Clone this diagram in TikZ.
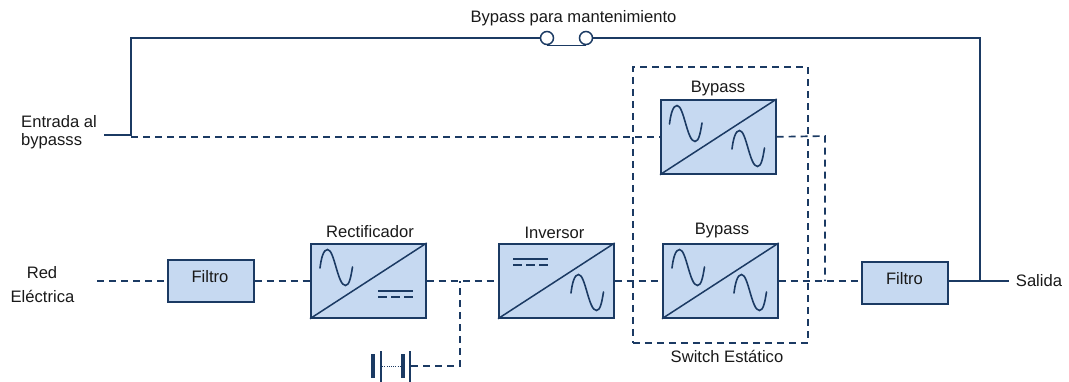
\documentclass[tikz,border=0pt]{standalone}
\usepackage{fontspec}
\setmainfont{Liberation Sans}
\definecolor{wire}{HTML}{1B3A63}
\definecolor{boxfill}{HTML}{C6D9F1}
\tikzset{
  x=1pt,y=-1pt,
  every node/.style={font=\fontsize{16.6}{20}\selectfont,text=black!90,inner sep=0pt},
  wireline/.style={draw=wire,line width=1.5pt},
  dashwire/.style={draw=wire,line width=1.7pt,dash pattern=on 7pt off 5pt},
  conv/.style={rectangle,draw=wire,fill=boxfill,line width=1.7pt,minimum width=115pt,minimum height=74pt,anchor=north west},
  filt/.style={rectangle,draw=wire,fill=boxfill,line width=1.7pt,minimum width=86pt,minimum height=42pt,anchor=north west},
  pics/sinewave/.style={code={\draw[wire,line width=1.6pt,line cap=round] (0,0) .. controls (1.2,-10) and (3.5,-18.5) .. (7.5,-18.5) .. controls (14.5,-18.5) and (17.5,17.5) .. (25.5,17.5) .. controls (29.5,17.5) and (31,8) .. (32.5,-1);}},
  pics/dcmark/.style={code={\draw[wire,line width=1.5pt] (0,0) -- (35,0);\draw[wire,line width=1.5pt,dash pattern=on 9pt off 4pt] (0,6) -- (35,6);}}
}
\begin{document}
\begin{tikzpicture}
\useasboundingbox (0,0) rectangle (1069,381);
% free ends and corners
\coordinate (topleft) at (131,38);
\coordinate (topright) at (980,38);
\coordinate (inkink) at (131,135);
\coordinate (instub) at (104,135);
\coordinate (redend) at (97,281);
\coordinate (outend) at (1009,281);
\coordinate (outtap) at (980,281);
\coordinate (mergetop) at (825,136);
\coordinate (merge) at (825,281);
\coordinate (dcjunction) at (460,281);
\coordinate (batcorner) at (460,366);
% dashed enclosure
\node[rectangle,draw=wire,line width=1.7pt,dash pattern=on 7pt off 5pt,minimum width=175pt,minimum height=276pt,anchor=north west] (staticbox) at (632,66) {};
% wires behind boxes
\node[circle,draw=wire,line width=1.5pt,fill=white,minimum size=13pt] (swa) at (547,38) {};
\node[circle,draw=wire,line width=1.5pt,fill=white,minimum size=13pt] (swb) at (586,38) {};
\draw[wireline] (instub) -- (inkink) -- (topleft) -- (swa.west);
\draw[wireline] (swa.south) -- (swb.south);
\draw[wireline] (swb.east) -- (topright) -- (outtap);
% boxes
\node[filt] (filtroa) at (167,259) {};
\node (filtroatext) at (210,277) {Filtro};
\node[conv] (rect) at (310,243) {};
\node[conv] (inv) at (498,243) {};
\node[conv] (bypb) at (662,243) {};
\node[conv] (bypt) at (660,99) {};
\node[filt] (filtrob) at (861,261) {};
\node (filtrobtext) at (904.5,279) {Filtro};
\foreach \b in {rect,inv,bypb,bypt}{\draw[wireline] (\b.south west) -- (\b.north east);}
% symbols
\pic at (320,268) {sinewave};
\pic at (378,291) {dcmark};
\pic at (513,259) {dcmark};
\pic at (571,293) {sinewave};
\pic at (672,268) {sinewave};
\pic at (734,293) {sinewave};
\pic at (669.5,124) {sinewave};
\pic at (732,149) {sinewave};
% connectors
\draw[dashwire] (redend) -- (redend -| filtroa.west);
\draw[dashwire] (filtroa.east |- redend) -- (rect.west |- redend);
\draw[dashwire] (rect.east |- dcjunction) -- (dcjunction) -- (inv.west |- dcjunction);
\draw[dashwire] (inv.east |- merge) -- (bypb.west |- merge);
\draw[dashwire] (bypb.east |- merge) -- (merge) -- (filtrob.west |- merge);
\draw[dashwire] (inkink |- bypt.west) -- (bypt.west);
\draw[dashwire] (bypt.east) -- (mergetop) -- (merge);
\draw[wireline] (filtrob.east |- outend) -- (outend);
% battery
\node[rectangle,fill=wire,minimum width=3.2pt,minimum height=24pt] (bata) at (373,366) {};
\node[rectangle,fill=wire,minimum width=2pt,minimum height=31pt] (batb) at (381,366) {};
\node[rectangle,fill=wire,minimum width=3.2pt,minimum height=24pt] (batc) at (403,366) {};
\node[rectangle,fill=wire,minimum width=2.4pt,minimum height=31pt] (batd) at (410,366) {};
\draw[wire,line width=1pt,dash pattern=on 1pt off 1.2pt] (batb.east) -- (batc.west);
\draw[dashwire] (batd.east) -- (batcorner) -- (dcjunction);
% labels
\node (lblmant) at (573.5,18) {Bypass para mantenimiento};
\node (lblbt) at (718,89) {Bypass};
\node (lblbb) at (722,231) {Bypass};
\node (lblrect) at (370,232) {Rectificador};
\node (lblinv) at (554.5,233) {Inversor};
\node (lblsal) at (1039,281) {Salida};
\node (lblsw) at (727,356) {Switch Estático};
\node (lblred) at (42,273) {Red};
\node (lblele) at (42.5,296) {Eléctrica};
\node[anchor=west] (lblent) at (21,122) {Entrada al};
\node[anchor=west] (lblby) at (21,141) {bypasss};
\end{tikzpicture}
\end{document}
